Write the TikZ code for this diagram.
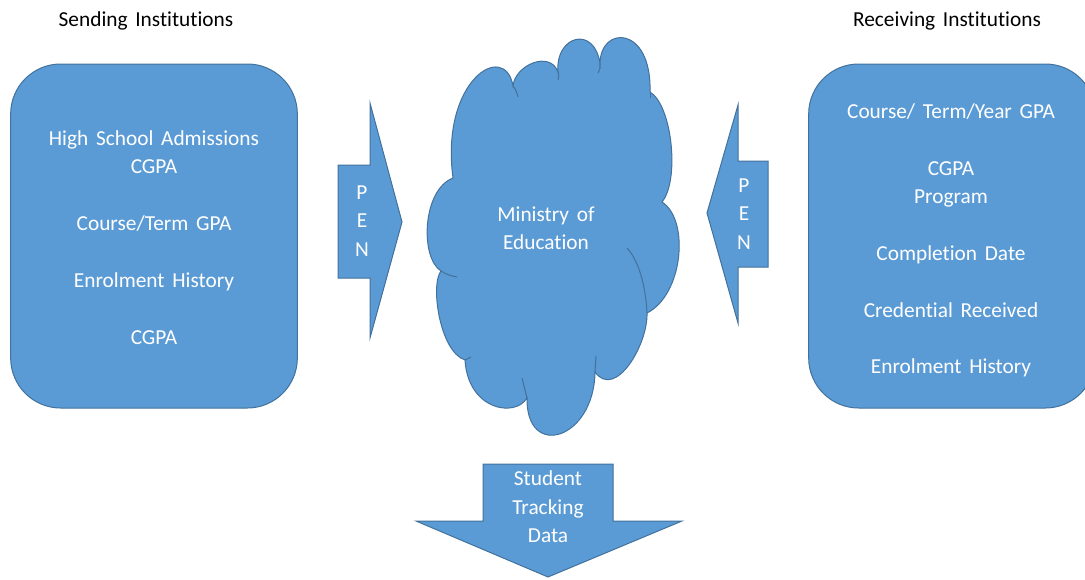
\documentclass[tikz,border=0pt]{standalone}
\usepackage{fontspec}
\setmainfont{Carlito}[WordSpace=1.6, Ligatures=NoCommon]
\definecolor{partfill}{HTML}{5B9BD5}
\definecolor{partline}{HTML}{41719C}

\begin{document}
\begin{tikzpicture}[x=0.75pt, y=-0.75pt,
  bluepart/.style={fill=partfill, draw=partline, line width=0.75pt},
  cloudline/.style={draw=partline, line width=0.75pt},
  headtext/.style={font=\fontsize{16}{21.3}\selectfont, align=center, inner sep=0pt},
  whitetext/.style={headtext, text=white},
  infobox/.style={bluepart, rounded corners=37.5pt, minimum width=215pt,
    minimum height=258pt}]
  \useasboundingbox (0,0) rectangle (1085,579);
  \clip (0,0) rectangle (1085,579);

  % headings
  \node[headtext] (sendhead) at (146,21) {Sending Institutions};
  \node[headtext] (recvhead) at (947,21) {Receiving Institutions};

  % the two institution boxes
  \node[infobox] (sending) at (154,236) {};
  \node[whitetext] (sendlist) at (154,237.5)
    {High School Admissions\\CGPA\\[21.3pt]Course/Term GPA\\[21.3pt]Enrolment History\\[21.3pt]CGPA};
  \node[infobox] (receiving) at (952,236) {};
  \node[whitetext] (recvlist) at (951,240.5)
    {Course/ Term/Year GPA\\[21.3pt]CGPA\\Program\\[21.3pt]Completion Date\\[21.3pt]Credential Received\\[21.3pt]Enrolment History};

  % PEN arrows
  \draw[bluepart] (338,165) -- (370,165) -- (370,103) -- (402,222)
    -- (370,338) -- (370,278) -- (338,278) -- cycle;
  \node[whitetext] (penleft) at (362,221) {P\\E\\N};
  \draw[bluepart] (768,161) -- (738,161) -- (738,105) -- (707,213)
    -- (738,323) -- (738,267) -- (768,267) -- cycle;
  \node[whitetext] (penright) at (744,214) {P\\E\\N};

  % ministry cloud
  \draw[bluepart] (453,178) .. controls (440,80) and (505,40) .. (513,86)
    .. controls (515,65) and (550,50) .. (558,72)
    .. controls (555,35) and (595,25) .. (600,64)
    .. controls (600,25) and (652,25) .. (650,92)
    .. controls (672,105) and (680,180) .. (662,202)
    .. controls (690,220) and (683,295) .. (647,313)
    .. controls (648,345) and (615,400) .. (595,372)
    .. controls (594,440) and (526,460) .. (527,398)
    .. controls (515,418) and (468,410) .. (465,360)
    .. controls (440,352) and (430,285) .. (441,271)
    .. controls (420,258) and (422,190) .. cycle;
  \draw[cloudline] (513,86) .. controls (516,90) .. (518,97);
  \draw[cloudline] (558,72) .. controls (559,76) .. (558,80);
  \draw[cloudline] (600,64) .. controls (600,69) .. (598,73);
  \draw[cloudline] (650,92) -- (650,98);
  \draw[cloudline] (627,248) .. controls (640,262) and (646,290) .. (647,313);
  \draw[cloudline] (596,356) .. controls (596,364) .. (595,372);
  \draw[cloudline] (522,378) .. controls (524,388) .. (527,398);
  \draw[cloudline] (465,360) .. controls (468,358) .. (471,357);
  \draw[cloudline] (441,271) .. controls (448,275) .. (457,277);
  \node[whitetext] (ministry) at (546,228) {Ministry of\\Education};

  % output arrow
  \draw[bluepart] (483,464) -- (613,464) -- (613,521) -- (682,521)
    -- (548,577) -- (416,521) -- (483,521) -- cycle;
  \node[whitetext] (tracking) at (548,507) {Student\\Tracking\\Data};
\end{tikzpicture}
\end{document}
